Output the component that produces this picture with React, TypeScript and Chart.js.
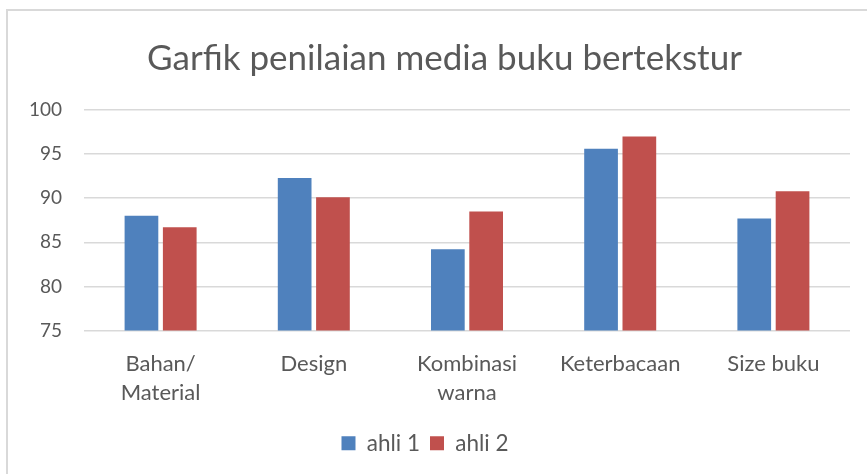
import React, { useEffect, useRef } from "react";
import { Chart, registerables } from "chart.js";

Chart.register(...registerables);

const categories: (string | string[])[] = [
  ["Bahan/", "Material"],
  "Design",
  ["Kombinasi", "warna"],
  "Keterbacaan",
  "Size buku",
];
const ahli1 = [88.0, 92.3, 84.2, 95.6, 87.7];
const ahli2 = [86.7, 90.1, 88.5, 97.0, 90.8];
const yTicks = [75, 80, 85, 90, 95, 100];
const titleText = "Garfik penilaian media buku bertekstur";

const FONT = "Lato, 'Noto Sans', sans-serif";
const TEXT = "#595959";

const titlePlugin = {
  id: "offsetTitle",
  afterDraw(chart: any) {
    const ctx = chart.ctx;
    ctx.save();
    ctx.font = `normal 35px ${FONT}`;
    ctx.fillStyle = TEXT;
    ctx.textAlign = "center";
    ctx.textBaseline = "middle";
    ctx.fillText(titleText, chart.width / 2 + 11, 58.5);
    ctx.restore();
  },
};

export default function App() {
  const ref = useRef<HTMLCanvasElement | null>(null);
  useEffect(() => {
    if (!ref.current) return;
    const chart = new Chart(ref.current, {
      type: "bar",
      data: {
        labels: categories,
        datasets: [
          {
            label: "ahli 1",
            data: ahli1,
            backgroundColor: "#4F81BD",
            categoryPercentage: 0.5,
            barPercentage: 0.88,
          },
          {
            label: "ahli 2",
            data: ahli2,
            backgroundColor: "#C0504D",
            categoryPercentage: 0.5,
            barPercentage: 0.88,
          },
        ],
      },
      plugins: [titlePlugin],
      options: {
        animation: false,
        responsive: false,
        layout: { padding: { left: 0, right: 17, top: 110, bottom: 9.5 } },
        plugins: {
          title: { display: false },
          legend: {
            position: "bottom",
            labels: {
              color: TEXT,
              font: { family: FONT, size: 22.5, lineHeight: 1.2 },
              boxWidth: 14,
              boxHeight: 14,
              padding: 10,
            },
          },
          tooltip: { enabled: false },
        },
        scales: {
          x: {
            grid: { display: false },
            border: { display: false },
            ticks: {
              color: TEXT,
              font: { family: FONT, size: 22, lineHeight: 1.32 },
              padding: 11,
              maxRotation: 0,
              autoSkip: false,
            },
            afterFit: (scale: any) => {
              scale.height = 91.5;
            },
          },
          y: {
            min: 75,
            max: 100,
            afterBuildTicks: (scale: any) => {
              scale.ticks = yTicks.map((v) => ({ value: v }));
            },
            grid: { color: "#D9D9D9", lineWidth: 1.5, drawTicks: false },
            border: { display: false },
            ticks: {
              color: TEXT,
              font: { family: FONT, size: 19 },
              padding: 22,
            },
            afterFit: (scale: any) => {
              scale.width = 84;
            },
          },
        },
      },
    });
    return () => chart.destroy();
  }, []);

  return (
    <div
      style={{
        position: "fixed",
        left: 0,
        top: 0,
        width: 867,
        height: 474,
        overflow: "hidden",
        background: "#fff",
      }}
    >
      <div
        style={{
          position: "absolute",
          left: 6,
          top: 9,
          width: 1000,
          height: 1000,
          border: "2px solid #D9D9D9",
          boxSizing: "border-box",
        }}
      />
      <canvas
        ref={ref}
        width={867}
        height={474}
        style={{ position: "absolute", left: 0, top: 0 }}
      />
    </div>
  );
}
